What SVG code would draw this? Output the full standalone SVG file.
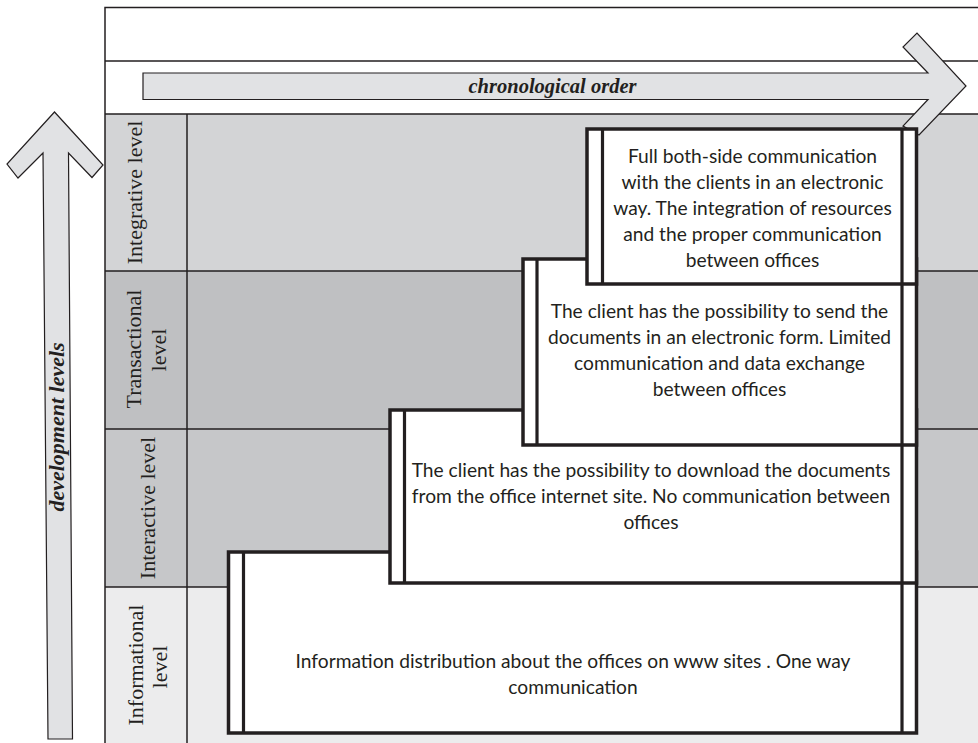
<svg xmlns="http://www.w3.org/2000/svg" width="978" height="743" viewBox="0 0 978 743">
<style>
.frame{fill:none;stroke:#231f20;stroke-width:1.5}
.arrow{fill:#e1e2e4;stroke:#231f20;stroke-width:1.2;stroke-linejoin:miter}
.box{fill:#ffffff;stroke:#231f20;stroke-width:3.5}
.inner{stroke:#231f20;stroke-width:3.2}
.lvl{font-family:"Liberation Serif","Times New Roman",serif;font-size:22px;fill:#231f20;text-anchor:middle}
.axis{font-family:"Liberation Serif","Times New Roman",serif;font-weight:bold;font-style:italic;fill:#231f20;text-anchor:middle}
.body{font-family:Lato,"Open Sans",sans-serif;font-size:19.2px;fill:#231f20;text-anchor:middle}
</style>
<rect x="0" y="0" width="978" height="743" fill="#ffffff"/>
<g id="grid">
<rect x="105" y="114" width="873" height="157" fill="#d3d4d6"/>
<rect x="105" y="271" width="873" height="158" fill="#bfc0c2"/>
<rect x="105" y="429" width="873" height="158" fill="#c6c7c9"/>
<rect x="105" y="587" width="873" height="156" fill="#ececed"/>
<path class="frame" d="M105,743 V7.5 H978 M105,61 H978 M105,114 H978 M105,271 H978 M105,429 H978 M105,587 H978 M187,114 V743"/>
</g>
<g id="chronological-order">
<polygon class="arrow" points="143,73 928,73 903,47 917,33 966,86 919,135 903,126 928,99.5 143,99.5"/>
<text class="axis" x="552.5" y="93" font-size="20.5">chronological order</text>
</g>
<g id="development-levels">
<polygon class="arrow" points="48,739 43,153 18,178 7,164 54.5,112 103,165 92,177.5 68.5,153 72.5,739"/>
<text class="axis" font-size="22" transform="translate(63.5,427) rotate(-90)">development levels</text>
</g>
<g id="level-labels">
<text class="lvl" transform="translate(142,192.5) rotate(-90)">Integrative level</text>
<text class="lvl" transform="translate(141,349) rotate(-90)">Transactional</text>
<text class="lvl" transform="translate(166,350) rotate(-90)">level</text>
<text class="lvl" transform="translate(155,508) rotate(-90)">Interactive level</text>
<text class="lvl" transform="translate(143,665) rotate(-90)">Informational</text>
<text class="lvl" transform="translate(167,667) rotate(-90)">level</text>
</g>
<g id="informational">
<rect class="box" x="228.5" y="552" width="688" height="181"/>
<line class="inner" x1="243.5" y1="552" x2="243.5" y2="733"/>
<line class="inner" x1="902" y1="552" x2="902" y2="733"/>
<text class="body" x="573" y="668">Information distribution about the offices on www sites . One way</text>
<text class="body" x="573" y="694">communication</text>
</g>
<g id="interactive">
<rect class="box" x="390" y="410" width="526.5" height="173"/>
<line class="inner" x1="404.5" y1="410" x2="404.5" y2="583"/>
<line class="inner" x1="902" y1="410" x2="902" y2="583"/>
<text class="body" x="651" y="477">The client has the possibility to download the documents</text>
<text class="body" x="651" y="503">from the office internet site. No communication between</text>
<text class="body" x="651" y="529">offices</text>
</g>
<g id="transactional">
<rect class="box" x="523" y="259" width="393.5" height="186"/>
<line class="inner" x1="537" y1="259" x2="537" y2="445"/>
<line class="inner" x1="902" y1="259" x2="902" y2="445"/>
<text class="body" x="719.5" y="318">The client has the possibility to send the</text>
<text class="body" x="719.5" y="344">documents in an electronic form. Limited</text>
<text class="body" x="719.5" y="370">communication and data exchange</text>
<text class="body" x="719.5" y="396">between offices</text>
</g>
<g id="integrative">
<rect class="box" x="587" y="129" width="329.5" height="155"/>
<line class="inner" x1="602.5" y1="129" x2="602.5" y2="284"/>
<line class="inner" x1="902" y1="129" x2="902" y2="284"/>
<text class="body" x="752.5" y="163">Full both-side communication</text>
<text class="body" x="752.5" y="189">with the clients in an electronic</text>
<text class="body" x="752.5" y="215">way. The integration of resources</text>
<text class="body" x="752.5" y="241">and the proper communication</text>
<text class="body" x="752.5" y="267">between offices</text>
</g>
</svg>
